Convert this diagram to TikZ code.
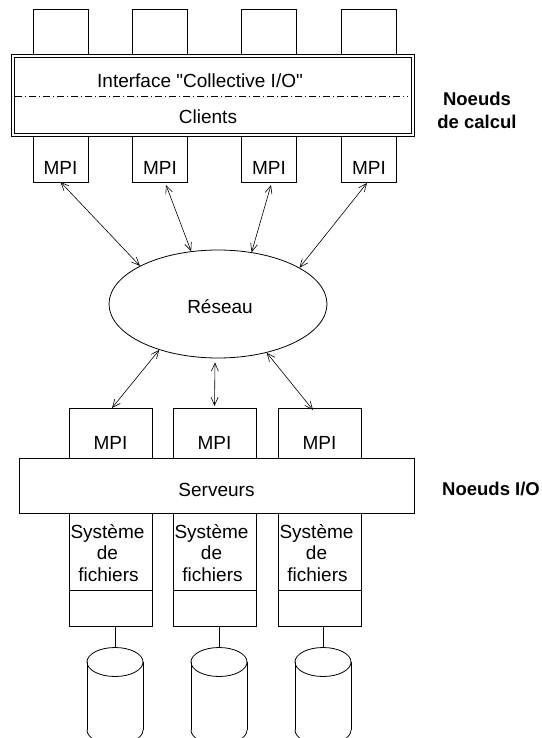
\documentclass[tikz,border=0pt]{standalone}
\usepackage{fontspec}
\setmainfont{Liberation Sans}[Ligatures=TeXOff]
\usetikzlibrary{arrows.meta,shapes.geometric}
\begin{document}
\begin{tikzpicture}[x=1pt,y=-1pt,
  box/.style={draw,line width=0.8pt,inner sep=0pt,outer sep=0pt,rectangle},
  txt/.style={inner sep=0pt,font=\fontsize{19}{21.5}\selectfont,anchor=base},
  boldtxt/.style={inner sep=0pt,font=\fontsize{18.5}{22}\selectfont\bfseries,anchor=base},
  link/.style={{Straight Barb[length=8pt,width=7pt]}-{Straight Barb[length=8pt,width=7pt]},line width=0.6pt},
  dashdot/.style={line width=0.6pt,dash pattern=on 7pt off 3pt on 1pt off 3pt},
  cylline/.style={line width=0.8pt}]
\useasboundingbox (0,0) rectangle (541,738);
\clip (0,0) rectangle (541,738);

% top compute node boxes
\foreach \i/\cx in {1/60.5,2/160,3/269,4/369}{
  \node[box,minimum width=55pt,minimum height=45pt] (t\i) at (\cx,31.5) {};
  \node[box,minimum width=55pt,minimum height=46pt] (tm\i) at (\cx,159) {};
  \node[txt] (tmt\i) at (\cx,175) {MPI};
}
% main double box
\node[box,minimum width=403pt,minimum height=82pt] (outer) at (212.5,95) {};
\node[box,minimum width=397pt,minimum height=76pt] (inner) at (212.5,95) {};
\draw[dashdot] ([shift={(1,1)}]inner.west) -- ([shift={(-3,1)}]inner.east);
\node[txt] (iface) at (200,88) {Interface "Collective I/O"};
\node[txt] (clients) at (208,124) {Clients};
\node[boldtxt] (nc1) at (477,105.5) {Noeuds};
\node[boldtxt] (nc2) at (477,129) {de calcul};

% network
\node[draw,ellipse,line width=0.8pt,minimum width=218pt,minimum height=108pt,inner sep=0pt] (res) at (218,304) {};
\node[txt] (rest) at (220,313) {Réseau};

% bottom I/O nodes
\foreach \i/\cx in {1/110.5,2/214.5,3/319.5}{
  \node[box,minimum width=83pt,minimum height=50pt] (bm\i) at (\cx,433) {};
  \node[txt] (bmt\i) at (\cx,449) {MPI};
  \node[box,minimum width=83pt,minimum height=77pt] (sys\i) at (\cx,551.5) {};
  \node[box,minimum width=83pt,minimum height=36pt] (low\i) at (\cx,608) {};
  \node[txt] (sa\i) at ({\cx-3},538) {Système};
  \node[txt] (sb\i) at ({\cx-3},559.5) {de};
  \node[txt] (sc\i) at ({\cx-2},581) {fichiers};
}
\node[box,minimum width=395pt,minimum height=55pt] (serv) at (216.5,485.5) {};
\node[txt] (servt) at (216.5,496) {Serveurs};
\node[boldtxt,anchor=base west] (nio) at (442,495.5) {Noeuds I/O};

% arrows
\draw[link] (tm1.south) -- (res.154.8);
\draw[link] ([xshift=6pt,yshift=-3pt]tm2.south) -- (res.117);
\draw[link] ([xshift=2pt,yshift=-3pt]tm3.south) -- (res.57.3);
\draw[link] ([xshift=-2pt,yshift=-1pt]tm4.south) -- (res.24.6);
\draw[link] (res.218.7) -- ([xshift=1.5pt]bm1.north);
\draw[link] ([xshift=-3pt,yshift=-4pt]res.south) -- ([yshift=2pt]bm2.north);
\draw[link] (res.315.5) -- ([xshift=-6.5pt,yshift=-2pt]bm3.north);

% disks
\foreach \i/\cx in {1/115,2/219,3/323}{
  \coordinate (cyl\i) at (\cx,647.5);
  \draw[cylline] (\cx,662) ellipse [x radius=28pt,y radius=14.5pt];
  \draw[cylline] ({\cx-28},662) -- ({\cx-28},730);
  \draw[cylline] ({\cx+28},662) -- ({\cx+28},730);
  \begin{scope}
    \clip ({\cx-30},730) rectangle ({\cx+30},760);
    \draw[cylline] (\cx,730) ellipse [x radius=28pt,y radius=14.5pt];
  \end{scope}
  \draw[cylline] (low\i.south -| cyl\i) -- (cyl\i);
}
\end{tikzpicture}
\end{document}
